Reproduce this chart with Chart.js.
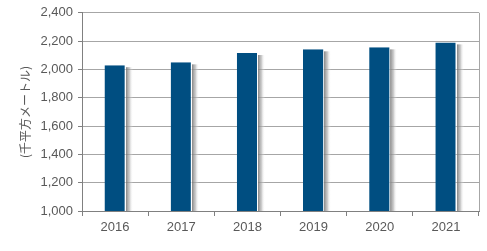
<!DOCTYPE html>
<html>
<head>
<meta charset="utf-8">
<script src="https://cdn.jsdelivr.net/npm/chart.js@4/dist/chart.umd.min.js"></script>
<style>
  html, body { margin: 0; padding: 0; background: #fff; }
  #wrap { width: 487px; height: 251px; }
</style>
</head>
<body>
<div id="wrap"><canvas id="myChart"></canvas></div>
<script>
const years = ["2016", "2017", "2018", "2019", "2020", "2021"];
const areas = [2030, 2050, 2116, 2142, 2156, 2191];
const yTicks = [1000, 1200, 1400, 1600, 1800, 2000, 2200, 2400];
const yTitle = "(千平方メートル)";

// soft grey shadow on the right of each bar, plus the right border of the plot
const barShadow = {
  id: "barShadow",
  beforeDatasetsDraw(chart) {
    const c = chart.ctx;
    const bottom = chart.chartArea.bottom;
    const meta = chart.getDatasetMeta(0);
    c.save();
    meta.data.forEach(bar => {
      const right = Math.round(bar.x + bar.width / 2);
      const g = c.createLinearGradient(right, 0, right + 7, 0);
      g.addColorStop(0, "rgba(120,120,120,0.9)");
      g.addColorStop(0.5, "rgba(170,170,170,0.6)");
      g.addColorStop(1, "rgba(255,255,255,0)");
      c.fillStyle = g;
      const top = bar.y + 2;
      c.fillRect(right, top, 7, Math.min(bar.base, bottom) - top);
    });
    c.restore();
  },
  afterDraw(chart) {
    const { ctx: c, chartArea: a } = chart;
    c.save();
    c.strokeStyle = "#a6a6a6";
    c.lineWidth = 1;
    c.beginPath();
    c.moveTo(Math.round(a.right) + 0.5, a.top);
    c.lineTo(Math.round(a.right) + 0.5, a.bottom);
    c.stroke();
    c.restore();
  }
};

const ctx = document.getElementById("myChart");
const myChart = new Chart(ctx, {
  type: "bar",
  data: {
    labels: years,
    datasets: [
      {
        data: areas,
        backgroundColor: "#004e81",
        borderColor: "#ffffff",
        borderWidth: { right: 1, top: 0, left: 0, bottom: 0 },
        borderSkipped: false,
        categoryPercentage: 1,
        barPercentage: 0.32,
      },
    ],
  },
  options: {
    responsive: true,
    maintainAspectRatio: false,
    animation: false,
    layout: { padding: { left: 0, top: 12, right: 8, bottom: 10 } },
    plugins: {
      legend: { display: false },
      tooltip: { enabled: false },
    },
    scales: {
      x: {
        offset: true,
        grid: {
          offset: true,
          drawOnChartArea: false,
          drawTicks: true,
          tickLength: 5,
          color: "#808080",
        },
        border: { color: "#808080" },
        ticks: {
          color: "#595959",
          font: { family: "Liberation Sans, Arial", size: 13 },
          padding: 4,
        },
        afterFit(s) { s.height = 30; },
      },
      y: {
        min: 1000,
        max: 2400,
        afterBuildTicks(s) { s.ticks = yTicks.map(v => ({ value: v })); },
        grid: {
          color: "#a6a6a6",
          tickLength: 4,
          tickColor: "#808080",
        },
        border: { color: "#808080" },
        ticks: {
          color: "#595959",
          font: { family: "Liberation Sans, Arial", size: 13 },
          padding: 5,
          callback: v => v.toLocaleString("en-US"),
        },
        title: {
          display: true,
          text: yTitle,
          color: "#595959",
          font: { family: "Noto Sans CJK JP", size: 12 },
          padding: { top: 18, bottom: 0 },
        },
        afterFit(s) { s.width = 82; },
      },
    },
  },
  plugins: [barShadow],
});
</script>
</body>
</html>
